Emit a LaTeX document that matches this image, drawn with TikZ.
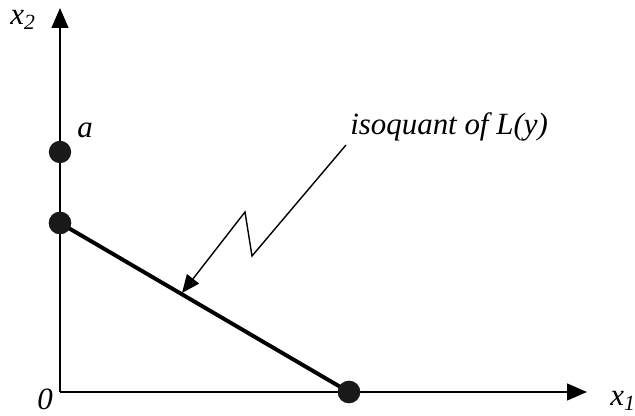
\documentclass[tikz,border=0pt]{standalone}
\usepackage{fontspec}
\setmainfont{Liberation Serif}
\usetikzlibrary{arrows.meta}

\begin{document}
\begin{tikzpicture}[font=\fontsize{22}{25}\selectfont\itshape,
    axis/.style={line width=1.4pt, -{Triangle[length=0.5cm, width=0.42cm]}},
    blob/.style={circle, fill=black!90, inner sep=0pt, minimum size=0.56cm},
    iso/.style={line width=2.8pt},
    leader/.style={line width=1pt, -{Triangle[length=0.45cm, width=0.38cm]}}]
    \useasboundingbox (-1.5,-0.6) rectangle (14.375,9.8);

    % ── Ejes ─────────────────────────────────────────────────────────
    \coordinate (o)    at (0,0);
    \coordinate (ytip) at (0,9.6);
    \coordinate (xtip) at (13.175,0);
    \draw[axis] (o) -- (ytip);
    \draw[axis] (o) -- (xtip);
    \node (x2)   at (-0.925, 9.3)  {x\textsubscript{2}};
    \node[inner sep=0pt] (x1)   at (14.075,-0.22) {x\textsubscript{1}};
    \node[inner sep=0pt] (zero) at (-0.375,-0.18)  {0};

    % ── Isocuanta ────────────────────────────────────────────────────
    \node[blob] (pa) at (0,6.0)   {};
    \node[blob] (pb) at (0,4.225) {};
    \node[blob] (pc) at (7.225,0) {};
    \draw[iso] (pb.center) -- (pc.center);
    \node[blob] at (pb) {};
    \node[blob] at (pc) {};
    \node (la) at (0.625,6.55) {a};

    % ── Etiqueta con flecha en zigzag ────────────────────────────────
    \node[anchor=base west, inner sep=0pt] (lbl) at (7.25,6.425) {isoquant of L(y)};
    \coordinate (z0) at (7.15,6.175);
    \coordinate (z1) at (4.8,3.4);
    \coordinate (z2) at (4.625,4.5);
    \coordinate (z3) at (3.05,2.475);
    \draw[leader] (z0) -- (z1) -- (z2) -- (z3);
\end{tikzpicture}
\end{document}
